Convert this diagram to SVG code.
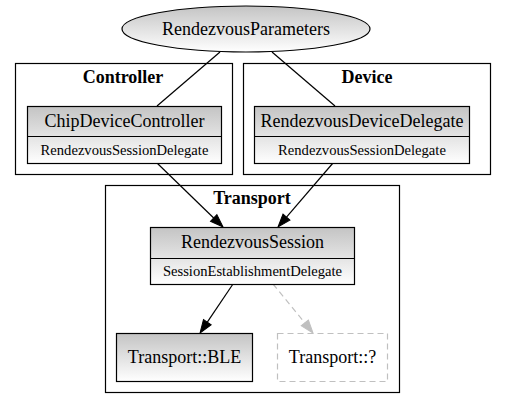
<svg xmlns="http://www.w3.org/2000/svg" width="507" height="408" viewBox="0 0 507 408">
<style>
text{font-family:"Liberation Serif","Times New Roman",serif;fill:#000;text-anchor:middle}
.t{font-size:18px}
.s{font-size:14.6px}
.c{font-size:18px;font-weight:bold}
.cl{fill:#fff;stroke:#000;stroke-width:1.2}
.box{fill:url(#g);stroke:#000;stroke-width:1.2}
.div{stroke:#000;stroke-width:1}
.e{fill:none;stroke:#000;stroke-width:1.2}
.ed{fill:none;stroke:#c0c0c0;stroke-width:1.2;stroke-dasharray:6,4}
</style>
<defs>
<linearGradient id="g" x1="0" y1="0" x2="0" y2="1">
<stop offset="0" stop-color="#c4c4c4"/>
<stop offset="1" stop-color="#ffffff"/>
</linearGradient>
<marker id="a" markerUnits="userSpaceOnUse" markerWidth="14" markerHeight="11" refX="0" refY="5" orient="auto" overflow="visible">
<path d="M0,0.4 L13,5 L0,9.6 z" fill="#000" stroke="#000" stroke-width="1"/>
</marker>
<marker id="ag" markerUnits="userSpaceOnUse" markerWidth="14" markerHeight="11" refX="0" refY="5" orient="auto" overflow="visible">
<path d="M0,0.4 L13,5 L0,9.6 z" fill="#c0c0c0" stroke="#c0c0c0" stroke-width="1"/>
</marker>
</defs>
<rect width="507" height="408" fill="#fff"/>
<g id="cluster-controller">
<rect class="cl" x="15.5" y="63.5" width="217" height="111"/>
<text class="c" x="123" y="83">Controller</text>
</g>
<g id="cluster-device">
<rect class="cl" x="243.5" y="63.5" width="247" height="111"/>
<text class="c" x="367" y="83">Device</text>
</g>
<g id="cluster-transport">
<rect class="cl" x="105.5" y="185.5" width="294" height="207"/>
<text class="c" x="252" y="204">Transport</text>
</g>
<g id="connectors">
<line class="e" x1="220" y1="52" x2="157" y2="106"/>
<line class="e" x1="272" y1="52" x2="335" y2="106"/>
<line class="e" x1="157" y1="163" x2="213.7" y2="218" marker-end="url(#a)"/>
<line class="e" x1="333" y1="163" x2="286.5" y2="217.1" marker-end="url(#a)"/>
<line class="e" x1="233" y1="284" x2="207.3" y2="322.2" marker-end="url(#a)"/>
<line class="ed" x1="273" y1="284" x2="304.8" y2="322.9" marker-end="url(#ag)"/>
</g>
<g id="node-rendezvousparameters">
<ellipse class="box" cx="246" cy="29" rx="124" ry="23"/>
<text class="t" x="246" y="35">RendezvousParameters</text>
</g>
<g id="node-chipdevicecontroller">
<rect class="box" x="27.5" y="106.5" width="194" height="57"/>
<line class="div" x1="27.5" y1="136.5" x2="221.5" y2="136.5"/>
<text class="t" x="124.5" y="127">ChipDeviceController</text>
<text class="s" x="124.5" y="155">RendezvousSessionDelegate</text>
</g>
<g id="node-rendezvousdevicedelegate">
<rect class="box" x="254.5" y="106.5" width="215" height="57"/>
<line class="div" x1="254.5" y1="136.5" x2="469.5" y2="136.5"/>
<text class="t" x="362" y="127">RendezvousDeviceDelegate</text>
<text class="s" x="362" y="155">RendezvousSessionDelegate</text>
</g>
<g id="node-rendezvoussession">
<rect class="box" x="150.5" y="227.5" width="204" height="57"/>
<line class="div" x1="150.5" y1="258.5" x2="354.5" y2="258.5"/>
<text class="t" x="252.5" y="248">RendezvousSession</text>
<text class="s" x="252.5" y="276">SessionEstablishmentDelegate</text>
</g>
<g id="node-transport-ble">
<rect class="box" x="116.5" y="333.5" width="136" height="48"/>
<text class="t" x="184.5" y="363">Transport::BLE</text>
</g>
<g id="node-transport-other">
<rect x="277.5" y="333.5" width="110" height="48" fill="#fff" stroke="#c0c0c0" stroke-width="1.2" stroke-dasharray="6,4"/>
<text class="t" x="332.5" y="363">Transport::?</text>
</g>
</svg>
